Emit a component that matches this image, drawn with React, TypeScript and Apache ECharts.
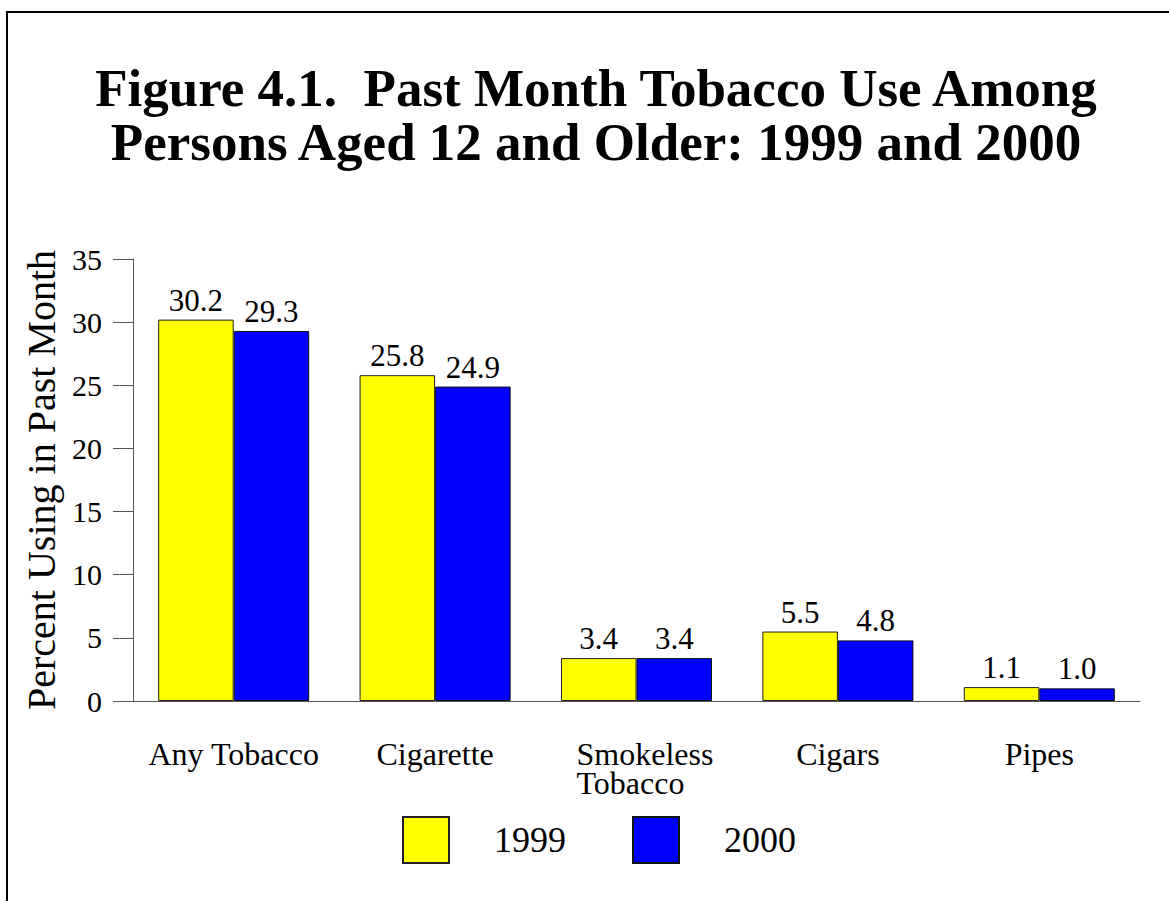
import React, { useEffect, useRef } from "react";
import * as echarts from "echarts";

// Past month tobacco use, persons aged 12 and older (percent)
const categories = ["Any Tobacco", "Cigarette", "Smokeless\nTobacco", "Cigars", "Pipes"];
const values1999 = [30.2, 25.8, 3.4, 5.5, 1.1];
const values2000 = [29.3, 24.9, 3.4, 4.8, 1.0];
const seriesNames = ["1999", "2000"];
const yTicks = { min: 0, max: 35, interval: 5 };

const FONT = "Liberation Serif";

export default function App() {
  const ref = useRef<HTMLDivElement>(null);

  useEffect(() => {
    if (!ref.current) return;
    const chart = echarts.init(ref.current, undefined, { renderer: "svg" });

    const barLabel = {
      show: true,
      position: "top" as const,
      distance: 4,
      fontFamily: FONT,
      fontSize: 31,
      color: "#000",
      formatter: (p: any) => Number(p.value).toFixed(1),
    };

    chart.setOption({
      animation: false,
      backgroundColor: "#fff",
      textStyle: { fontFamily: FONT, color: "#000" },
      title: {
        text: "Figure 4.1.  Past Month Tobacco Use Among\nPersons Aged 12 and Older: 1999 and 2000",
        left: 591,
        top: 56,
        textAlign: "center",
        textStyle: {
          fontFamily: FONT,
          fontWeight: "bold",
          fontSize: 53,
          lineHeight: 54,
          color: "#000",
        },
      },
      graphic: [
        {
          type: "rect",
          shape: { x: 7, y: 12, width: 1300, height: 1000 },
          style: { fill: "none", stroke: "#000", lineWidth: 2 },
          silent: true,
        },
      ],
      legend: {
        left: 402,
        top: 816,
        padding: 0,
        itemWidth: 46,
        itemHeight: 46,
        itemGap: 66,
        icon: "rect",
        data: seriesNames,
        textStyle: {
          fontFamily: FONT,
          fontSize: 36,
          color: "#000",
          padding: [0, 0, 0, 40],
        },
      },
      grid: { left: 133, right: 29, top: 259, bottom: 200, containLabel: false },
      xAxis: {
        type: "category",
        data: categories,
        axisLine: { lineStyle: { color: "#555", width: 1 } },
        axisTick: { alignWithLabel: true, length: 19, lineStyle: { color: "#555" } },
        axisLabel: {
          margin: 38,
          interval: 0,
          fontFamily: FONT,
          fontSize: 32,
          lineHeight: 29,
          color: "#000",
          formatter: (v: string) =>
            v.includes("\n")
              ? v
                  .split("\n")
                  .map((line) => `{l|${line}}`)
                  .join("\n")
              : v,
          rich: {
            l: {
              fontFamily: FONT,
              fontSize: 32,
              lineHeight: 29,
              width: 120,
              align: "left",
              color: "#000",
            },
          },
        },
      },
      yAxis: {
        type: "value",
        min: yTicks.min,
        max: yTicks.max,
        interval: yTicks.interval,
        name: "Percent Using in Past Month",
        nameLocation: "middle",
        nameRotate: 90,
        nameGap: 70,
        nameTextStyle: { fontFamily: FONT, fontSize: 40, color: "#000" },
        axisLine: { show: true, lineStyle: { color: "#555", width: 1 } },
        axisTick: { show: true, length: 20, lineStyle: { color: "#555" } },
        splitLine: { show: false },
        axisLabel: { margin: 31, fontFamily: FONT, fontSize: 30, color: "#000" },
      },
      series: [
        {
          name: seriesNames[0],
          type: "bar",
          data: values1999,
          barGap: "0%",
          barCategoryGap: "25%",
          itemStyle: { color: "#FFFF00", borderColor: "#222", borderWidth: 1 },
          label: barLabel,
        },
        {
          name: seriesNames[1],
          type: "bar",
          data: values2000,
          itemStyle: { color: "#0000FF", borderColor: "#111", borderWidth: 1 },
          label: barLabel,
        },
      ],
    });

    return () => chart.dispose();
  }, []);

  return (
    <div
      ref={ref}
      style={{ position: "fixed", left: 0, top: 0, width: 1169, height: 901, background: "#fff" }}
    />
  );
}
